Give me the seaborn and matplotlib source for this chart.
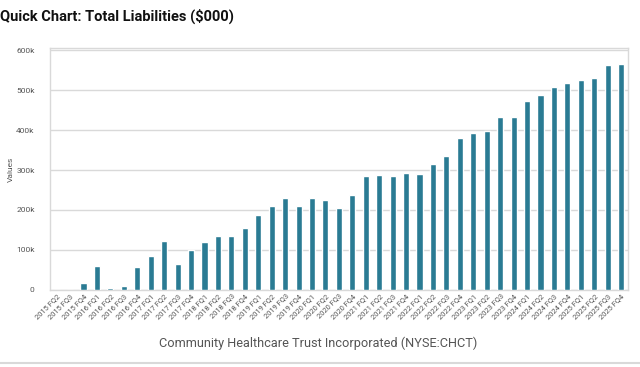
import matplotlib
matplotlib.use("Agg")
import matplotlib.pyplot as plt
import seaborn as sns
import pandas as pd

# Total liabilities ($000)
years = [2015] * 3 + [y for y in range(2016, 2026) for _ in range(4)]
quarters = ["FQ2", "FQ3", "FQ4"] + ["FQ1", "FQ2", "FQ3", "FQ4"] * 10
labels = [f"{y} {q}" for y, q in zip(years, quarters)]
values = [
    0, 0, 18,
    59, 4, 9, 57,
    86, 123, 66, 101,
    119, 134, 136, 154,
    187, 211, 231, 209,
    229, 224, 206, 238,
    285, 288, 286, 292,
    290, 314, 334, 380,
    392, 397, 433, 433,
    472, 487, 507, 518,
    525, 531, 562, 564,
]
values = [v * 1000 for v in values]

df = pd.DataFrame({"period": labels, "liabilities": values})

BAR_COLOR = "#2a7b93"
GRID = "#d9d9d9"
TEXT = "#555555"

sns.set_theme(style="white")
plt.rcParams["font.family"] = ["Roboto", "DejaVu Sans"]

fig = plt.figure(figsize=(6.4, 3.67), dpi=100)
ax = fig.add_axes([0.078, 0.21, 0.903, 0.659])

sns.barplot(data=df, x="period", y="liabilities", color=BAR_COLOR,
            width=0.45, saturation=1, ax=ax, zorder=3)

ax.set_ylim(0, 605000)
ax.set_yticks(range(0, 600001, 100000))
ax.set_yticklabels(["0"] + [f"{k}k" for k in range(100, 601, 100)],
                   fontsize=6, color=TEXT)
ax.yaxis.grid(True, color=GRID, linewidth=1, zorder=0)
ax.tick_params(axis="y", length=0, pad=11)
ax.tick_params(axis="x", length=0, pad=2)
ax.set_xticks(range(len(labels)))
ax.set_xticklabels(labels, rotation=45, ha="right", rotation_mode="anchor",
                   fontsize=5.4, color=TEXT)
ax.set_xlabel("")
ax.set_ylabel("Values", fontsize=6, color=TEXT)
ax.yaxis.set_label_coords(-0.062, 0.5)
for s in ax.spines.values():
    s.set_color(GRID)
    s.set_linewidth(1)

fig.text(0.0, 0.975, "Quick Chart: Total Liabilities ($000)", fontsize=10.5,
         fontweight="bold", color="#111111", va="top", ha="left")
fig.text(0.497, 0.065, "Community Healthcare Trust Incorporated (NYSE:CHCT)",
         fontsize=9.2, color=TEXT, ha="center", va="center")
fig.add_artist(plt.Line2D([0, 1], [0.01, 0.01], color=GRID, linewidth=1.5,
                          transform=fig.transFigure))

fig.savefig("out.png", dpi=100)
